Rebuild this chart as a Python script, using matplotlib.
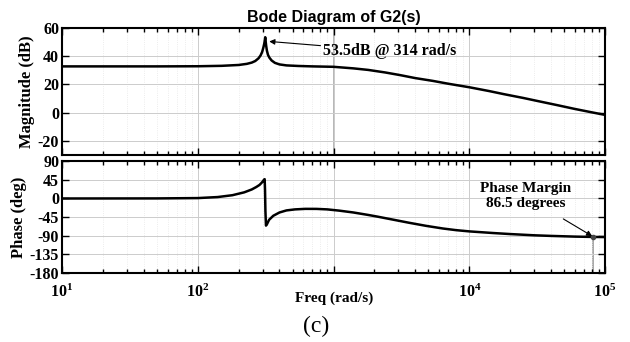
import numpy as np
import matplotlib
matplotlib.use('Agg')
import matplotlib.pyplot as plt
from matplotlib.ticker import LogLocator, NullFormatter

# Bode Diagram of G2(s)
freq_mag = [10, 50, 100, 150, 200, 230, 250, 265, 280, 290, 298, 304, 309, 312, 314,
            316, 319, 323, 329, 337, 350, 370, 400, 450, 550, 700, 1000, 1400, 1800,
            2400, 3100, 4000, 5400, 7000, 10000, 14000, 18000, 25000, 32000, 45000,
            60000, 82000, 100000]
mag_db = [32.8, 32.8, 32.9, 33.2, 33.8, 34.6, 35.5, 36.6, 38.5, 40.5, 43.0, 46.0, 49.0,
          51.5, 53.5, 51.0, 47.5, 44.0, 41.0, 39.0, 37.0, 35.3, 34.2, 33.5, 33.1, 32.8,
          32.5, 31.4, 30.3, 28.5, 26.6, 24.5, 22.5, 20.5, 18.0, 15.3, 13.1, 10.4, 8.2,
          5.2, 2.6, 0.0, -1.6]

freq_ph = [10, 50, 100, 140, 180, 220, 250, 270, 285, 295, 302, 308, 311, 313, 315,
           318, 324, 335, 360, 400, 450, 520, 620, 750, 900, 1100, 1400, 1800, 2100,
           2700, 3600, 4800, 6400, 8000, 10000, 15000, 20000, 30000, 40000, 60000,
           82000, 100000]
phase_deg = [0, 0.2, 1, 3.5, 8, 15, 22, 28, 33, 38, 42, 46, 47, 20, -30, -66, -62, -52,
             -42, -34, -29, -26.5, -25.2, -25.3, -26.5, -29.5, -34, -40, -44, -51, -59,
             -66.5, -73, -77, -80, -84, -86.5, -89.5, -91, -92.7, -93.5, -93.8]

mag_ticks = [-20, 0, 20, 40, 60]
ph_ticks = [-180, -135, -90, -45, 0, 45, 90]
xticks = [10, 100, 1000, 10000, 100000]
xlabels = [r'$\mathbf{10^{1}}$', r'$\mathbf{10^{2}}$', '', r'$\mathbf{10^{4}}$', r'$\mathbf{10^{5}}$']

peak_f, peak_db = 314, 53.5
wc, pm = 82000, 86.5

plt.rcParams['font.family'] = 'Liberation Serif'
plt.rcParams['font.weight'] = 'bold'
plt.rcParams['axes.unicode_minus'] = False
plt.rcParams['mathtext.fontset'] = 'custom'
plt.rcParams['mathtext.bf'] = 'Liberation Serif:bold'
plt.rcParams['mathtext.rm'] = 'Liberation Serif:bold'

fig = plt.figure(figsize=(6.3, 3.42), dpi=100)
ax1 = fig.add_axes([0.0984, 0.547, 0.862, 0.371])
ax2 = fig.add_axes([0.0984, 0.202, 0.862, 0.327])

for ax in (ax1, ax2):
    ax.set_xscale('log')
    ax.set_xlim(10, 1e5)
    ax.xaxis.set_major_locator(LogLocator(base=10, numticks=10))
    ax.xaxis.set_minor_locator(LogLocator(base=10, subs=np.arange(2, 10), numticks=20))
    ax.xaxis.set_minor_formatter(NullFormatter())
    ax.tick_params(which='both', direction='in', top=True, right=True, labelsize=11.5, width=1.0)
    ax.tick_params(which='major', length=5, pad=2)
    ax.tick_params(which='minor', length=3)
    ax.grid(which='major', color='#cccccc', lw=0.7, ls='-')
    ax.grid(which='minor', axis='x', color='#e6e6e6', lw=0.6, ls=':')
    for s in ax.spines.values():
        s.set_linewidth(1.5)

# magnitud
ax1.plot(freq_mag, mag_db, color='k', lw=1.8)
ax1.axvline(1000, color='#aaaaaa', lw=1.2, zorder=1)
ax1.set_ylim(-30, 60)
ax1.set_yticks(mag_ticks)
ax1.set_xticks(xticks)
ax1.set_xticklabels([])
ax1.set_ylabel('Magnitude (dB)', fontsize=12, fontweight='bold', labelpad=2)
ax1.set_title('Bode Diagram of G2(s)', family='Liberation Sans', fontweight='bold', fontsize=11.5, pad=4)
ax1.annotate('53.5dB @ 314 rad/s', xy=(peak_f * 1.07, peak_db - 3), xytext=(840, 43.5),
             fontsize=11.5, fontweight='bold', va='center', ha='left',
             arrowprops=dict(arrowstyle='-|>', color='k', lw=0.8, mutation_scale=8, shrinkA=0, shrinkB=0))

# fase
ax2.plot(freq_ph, phase_deg, color='k', lw=1.8)
ax2.set_ylim(-181, 91)
ax2.set_yticks(ph_ticks)
ax2.set_xticks(xticks)
ax2.set_xticklabels(xlabels)
ax2.tick_params(axis='x', which='major', pad=8)
ax2.set_ylabel('Phase (deg)', fontsize=12, fontweight='bold', labelpad=2)
ax2.plot([wc, wc], [-180 + pm, -181], color='#999999', lw=1.2, zorder=1)
ax2.plot(wc, -180 + pm, 'o', color='#444444', ms=3)
ax2.annotate('Phase Margin\n86.5 degrees', xy=(wc * 0.98, -180 + pm + 2), xytext=(26000, 5),
             fontsize=11, fontweight='bold', ha='center', va='center', multialignment='center',
             arrowprops=dict(arrowstyle='-|>', color='k', lw=0.8, mutation_scale=8, shrinkA=8, shrinkB=0))

fig.text(0.530, 0.128, 'Freq (rad/s)', fontsize=11, fontweight='bold', ha='center', va='center')
fig.text(0.502, 0.045, '(c)', fontsize=17, fontweight='normal', ha='center', va='center')

fig.savefig('out.png', dpi=100)
